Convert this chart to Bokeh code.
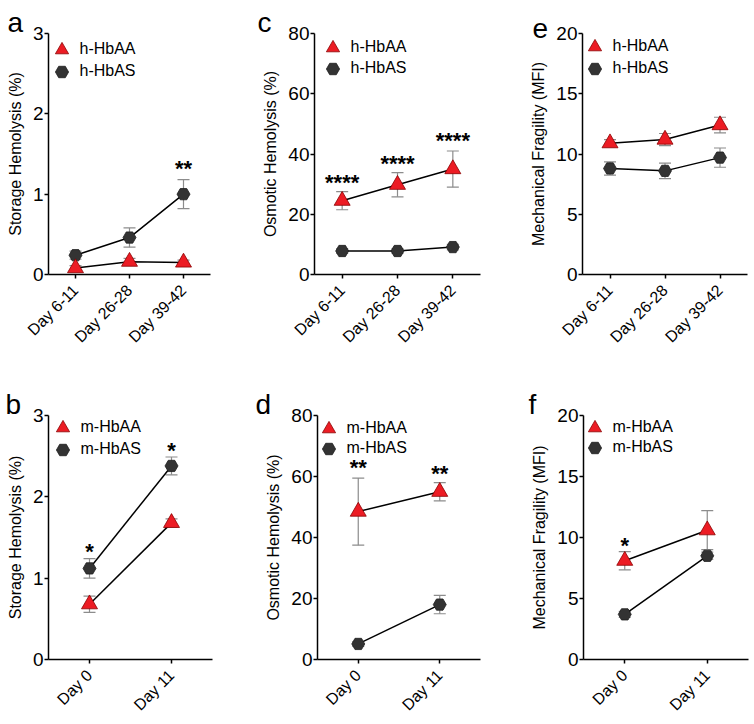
import math
from bokeh.plotting import figure
from bokeh.models import (FactorRange, Range1d, FixedTicker, Legend, LegendItem,
                          Whisker, TeeHead, ColumnDataSource)
from bokeh.layouts import column, row
from bokeh.embed import file_html
from bokeh.resources import INLINE
from bokeh.core.properties import value

# ---------------- data ----------------
h_days = ["Day 6-11", "Day 26-28", "Day 39-42"]
m_days = ["Day 0", "Day 11"]

h_names = ["h-HbAA", "h-HbAS"]
m_names = ["m-HbAA", "m-HbAS"]

# a: storage hemolysis, human
a_hbaa = [0.08, 0.16, 0.15]
a_hbaa_sem = [0.03, 0.04, 0.03]
a_hbas = [0.24, 0.46, 1.00]
a_hbas_sem = [0.05, 0.12, 0.18]
a_sig_x = ["Day 39-42"]
a_sig_y = [1.35]
a_sig_txt = ["**"]

# c: osmotic hemolysis, human
c_hbaa = [24.5, 29.8, 35.0]
c_hbaa_sem = [3.0, 4.0, 6.0]
c_hbas = [7.8, 7.8, 9.1]
c_hbas_sem = [0.8, 0.8, 0.9]
c_sig_x = ["Day 6-11", "Day 26-28", "Day 39-42"]
c_sig_y = [31.3, 37.4, 45.2]
c_sig_txt = ["****", "****", "****"]

# e: mechanical fragility, human
e_hbaa = [10.9, 11.2, 12.4]
e_hbaa_sem = [0.3, 0.5, 0.65]
e_hbas = [8.8, 8.6, 9.7]
e_hbas_sem = [0.55, 0.65, 0.8]
e_sig_x = []
e_sig_y = []
e_sig_txt = []

# b: storage hemolysis, mouse
b_hbaa = [0.68, 1.68]
b_hbaa_sem = [0.10, 0.05]
b_hbas = [1.12, 2.38]
b_hbas_sem = [0.12, 0.11]
b_sig_x = ["Day 0", "Day 11"]
b_sig_y = [1.35, 2.60]
b_sig_txt = ["*", "*"]

# d: osmotic hemolysis, mouse
d_hbaa = [48.5, 55.0]
d_hbaa_sem = [11.0, 3.0]
d_hbas = [5.1, 18.0]
d_hbas_sem = [0.8, 3.0]
d_sig_x = ["Day 0", "Day 11"]
d_sig_y = [63.7, 61.7]
d_sig_txt = ["**", "**"]

# f: mechanical fragility, mouse
f_hbaa = [8.1, 10.6]
f_hbaa_sem = [0.75, 1.6]
f_hbas = [3.7, 8.5]
f_hbas_sem = [0.25, 0.3]
f_sig_x = ["Day 0"]
f_sig_y = [9.5]
f_sig_txt = ["*"]

storage_ticks = [0, 1, 2, 3]
osmotic_ticks = [0, 20, 40, 60, 80]
mech_ticks = [0, 5, 10, 15, 20]

# ---------------- styling ----------------
FONT = "Liberation Sans"
RED = "#ec1c24"
DARK = "#333333"
ERR = "#8c8c8c"
GLY = 33  # legend glyph box (marker size = 0.4 * box)


def panel(days, aa, aa_sem, hs, hs_sem, sig_x, sig_y, sig_txt, ylabel, yticks,
          names, letter, g):
    fh = g["h"] - g["t"] - g["b"]
    p = figure(width=g["w"], height=g["h"],
               x_range=FactorRange(factors=days),
               y_range=Range1d(0, yticks[-1]),
               min_border_left=g["l"], min_border_right=g["r"],
               min_border_top=g["t"], min_border_bottom=g["b"],
               output_backend="svg", toolbar_location=None, tools="")
    p.outline_line_color = None
    p.xgrid.visible = False
    p.ygrid.visible = False
    p.background_fill_color = "white"
    p.border_fill_color = "white"

    # panel letter as title
    p.title.text = letter
    p.title.text_font = FONT
    p.title.text_font_size = "28px"
    p.title.text_font_style = "normal"
    p.title.text_color = "black"
    p.title.align = "left"
    p.title.offset = g["lx"]
    p.title.standoff = -9

    for ax in (p.xaxis, p.yaxis):
        ax.axis_line_width = 1.5
        ax.axis_line_color = "black"
        ax.major_tick_line_width = 1.5
        ax.major_tick_line_color = "black"
        ax.major_tick_in = 0
        ax.major_tick_out = 4
        ax.minor_tick_out = 0
        ax.minor_tick_in = 0
        ax.major_label_text_font = FONT
        ax.major_label_text_color = "black"

    p.yaxis.ticker = FixedTicker(ticks=yticks)
    p.yaxis.major_label_text_font_size = "19px"
    p.yaxis.major_label_standoff = 1
    p.yaxis.axis_label = ylabel
    p.yaxis.axis_label_text_font = FONT
    p.yaxis.axis_label_text_font_size = "16px"
    p.yaxis.axis_label_text_font_style = "normal"
    p.yaxis.axis_label_text_color = "black"
    p.yaxis.axis_label_standoff = 6

    p.xaxis.major_label_orientation = math.pi / 4
    p.xaxis.major_label_text_font_size = "16px"
    p.xaxis.major_label_standoff = 9

    lo_aa = [v - e for v, e in zip(aa, aa_sem)]
    hi_aa = [v + e for v, e in zip(aa, aa_sem)]
    lo_hs = [v - e for v, e in zip(hs, hs_sem)]
    hi_hs = [v + e for v, e in zip(hs, hs_sem)]
    err_src = ColumnDataSource(dict(x=list(days) + list(days),
                                    lo=lo_aa + lo_hs, hi=hi_aa + hi_hs))
    w = Whisker(base="x", lower="lo", upper="hi", source=err_src,
                dimension="height", line_color=ERR, line_width=1.2,
                upper_head=TeeHead(size=12, line_color=ERR, line_width=1.2),
                lower_head=TeeHead(size=12, line_color=ERR, line_width=1.2))
    p.add_layout(w)

    p.line(x=days, y=hs, line_color="black", line_width=1.5)
    p.line(x=days, y=aa, line_color="black", line_width=1.5)
    r_hs = p.scatter(x=days, y=hs, marker="hex", size=13, fill_color=DARK,
                     line_color="#1e1e1e", line_width=0.8)
    r_aa = p.scatter(x=days, y=aa, marker="triangle", size=16, fill_color=RED,
                     line_color="#8a0000", line_width=0.8)

    if sig_x:
        p.text(x=sig_x, y=sig_y, text=sig_txt, text_align="center",
               text_baseline="alphabetic", y_offset=2,
               text_font=value(FONT), text_font_size="22px",
               text_font_style="bold", text_color="black")

    # two single-item legends so that the row pitch can be set freely
    for rend, name, dy in ((r_aa, names[0], g["gy"]), (r_hs, names[1], g["gy"] + g["gp"])):
        leg = Legend(items=[LegendItem(label=name, renderers=[rend])],
                     location=(g["gx"] - GLY / 2 - 3, fh - dy - GLY / 2),
                     glyph_width=GLY, glyph_height=GLY,
                     padding=0, margin=0, label_standoff=2,
                     label_text_font=FONT, label_text_font_size="16px",
                     label_text_color="black",
                     background_fill_alpha=0, border_line_color=None)
        p.add_layout(leg)
    return p


geo = {
    "a": dict(w=256, h=362, l=48, r=46, t=31, b=88, gx=16, gy=18, gp=22, lx=-41),
    "c": dict(w=268, h=362, l=58, r=44, t=33, b=83, gx=21, gy=19, gp=21, lx=-57),
    "e": dict(w=228, h=362, l=58, r=5, t=32, b=84, gx=15, gy=18, gp=22, lx=-50),
    "b": dict(w=256, h=360, l=48, r=44, t=50, b=63, gx=17, gy=15, gp=22, lx=-43),
    "d": dict(w=268, h=360, l=61, r=44, t=52, b=63, gx=14, gy=14, gp=20, lx=-62),
    "f": dict(w=228, h=360, l=59, r=4, t=53, b=60, gx=14, gy=15, gp=20, lx=-55),
}

pa = panel(h_days, a_hbaa, a_hbaa_sem, a_hbas, a_hbas_sem, a_sig_x, a_sig_y, a_sig_txt,
           "Storage Hemolysis (%)", storage_ticks, h_names, "a", geo["a"])
pc = panel(h_days, c_hbaa, c_hbaa_sem, c_hbas, c_hbas_sem, c_sig_x, c_sig_y, c_sig_txt,
           "Osmotic Hemolysis (%)", osmotic_ticks, h_names, "c", geo["c"])
pe = panel(h_days, e_hbaa, e_hbaa_sem, e_hbas, e_hbas_sem, e_sig_x, e_sig_y, e_sig_txt,
           "Mechanical Fragility (MFI)", mech_ticks, h_names, "e", geo["e"])
pb = panel(m_days, b_hbaa, b_hbaa_sem, b_hbas, b_hbas_sem, b_sig_x, b_sig_y, b_sig_txt,
           "Storage Hemolysis (%)", storage_ticks, m_names, "b", geo["b"])
pd_ = panel(m_days, d_hbaa, d_hbaa_sem, d_hbas, d_hbas_sem, d_sig_x, d_sig_y, d_sig_txt,
            "Osmotic Hemolysis (%)", osmotic_ticks, m_names, "d", geo["d"])
pf = panel(m_days, f_hbaa, f_hbaa_sem, f_hbas, f_hbas_sem, f_sig_x, f_sig_y, f_sig_txt,
           "Mechanical Fragility (MFI)", mech_ticks, m_names, "f", geo["f"])

layout = column(row(pa, pc, pe), row(pb, pd_, pf))

with open("out.html", "w") as fh_:
    fh_.write(file_html(layout, INLINE))
